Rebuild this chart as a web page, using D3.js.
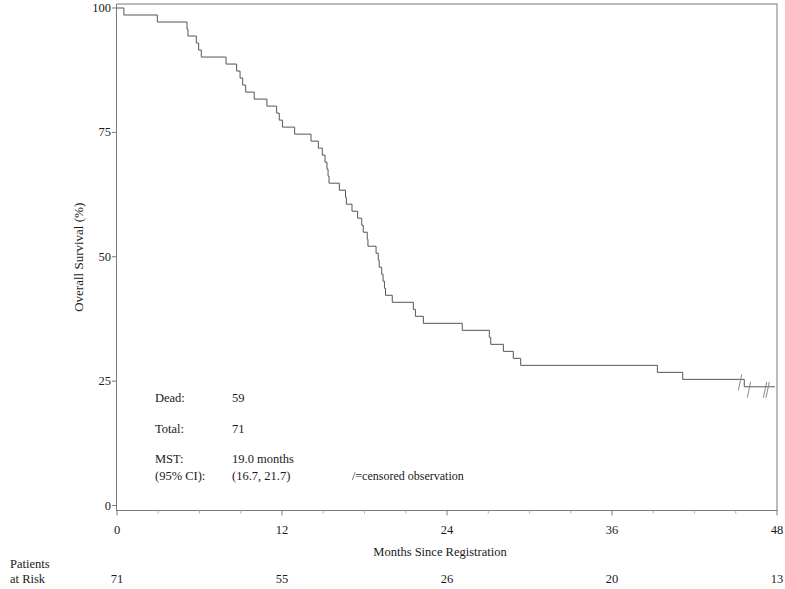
<!DOCTYPE html>
<html>
<head>
<meta charset="utf-8">
<script src="https://cdn.jsdelivr.net/npm/d3@7"></script>
<style>
  html, body { margin: 0; padding: 0; background: #fff; }
  svg { display: block; }
  text { font-family: "Liberation Serif", "Times New Roman", serif; fill: #1a1a1a; }
</style>
</head>
<body>
<svg id="chart" width="785" height="589"></svg>
<script>
// ---- data ----
const nTotal = 71;
const deathTimes = [
  0.5, 2.93, 5.09, 5.16, 5.77, 5.94, 6.13, 7.93, 8.70, 8.95, 9.14, 9.36, 9.98,
  10.9, 11.61, 11.8, 12.03, 12.92, 14.11, 14.64, 14.93, 15.13, 15.27, 15.35,
  15.42, 16.17, 16.62, 16.68, 17.09, 17.5, 17.8, 17.91, 18.2, 18.25, 18.84,
  19.0, 19.07, 19.25, 19.35, 19.45, 19.53, 20.02, 21.55, 21.7, 22.28, 25.11,
  27.08, 27.18, 28.1, 28.82, 29.36, 39.3, 41.14, 45.62
];
const censorTimes = [45.31, 45.96, 47.13, 47.32];
const followUpEnd = 47.85;

const xTicks = [0, 12, 24, 36, 48];
const xMinorTicks = [3, 6, 9, 15, 18, 21, 27, 30, 33, 39, 42, 45];
const yTicks = [0, 25, 50, 75, 100];
const atRiskTimes = [0, 12, 24, 36, 48];
const atRiskCounts = [71, 55, 26, 20, 13];

const statLabels = ["Dead:", "Total:", "MST:", "(95% CI):"];
const statValues = ["59", "71", "19.0 months", "(16.7, 21.7)"];
const censorNote = "/=censored observation";

// ---- Kaplan-Meier estimate ----
const events = deathTimes.map(t => ({t, d: 1}))
  .concat(censorTimes.map(t => ({t, d: 0})))
  .sort((a, b) => a.t - b.t);
let atRisk = nTotal, S = 100;
const steps = [{t: 0, s: 100}];
const censorPts = [];
events.forEach(e => {
  if (e.d === 1) {
    S = S * (atRisk - 1) / atRisk;
    steps.push({t: e.t, s: S});
  } else {
    censorPts.push({t: e.t, s: S});
  }
  atRisk -= 1;
});
steps.push({t: followUpEnd, s: S});

// ---- scales ----
const svg = d3.select("#chart");
const x = d3.scaleLinear().domain([0, 48]).range([117, 777]);
const y = d3.scaleLinear().domain([0, 100]).range([505.5, 8]);
const frameTop = 4, frameBottom = 510.5;

const axisColor = "#7a7a7a";
const fs = 12.5;

// frame
svg.append("rect")
  .attr("x", x(0) - 0.5).attr("y", frameTop)
  .attr("width", x(48) - x(0) + 0.5).attr("height", frameBottom - frameTop)
  .attr("fill", "none").attr("stroke", axisColor).attr("stroke-width", 1);

// x axis ticks
const gx = svg.append("g");
gx.selectAll("line.major").data(xTicks).join("line")
  .attr("x1", d => x(d)).attr("x2", d => x(d))
  .attr("y1", frameBottom).attr("y2", frameBottom + 5)
  .attr("stroke", axisColor);
gx.selectAll("line.minor").data(xMinorTicks).join("line")
  .attr("x1", d => x(d)).attr("x2", d => x(d))
  .attr("y1", frameBottom).attr("y2", frameBottom + 3)
  .attr("stroke", "#b0b0b0");
gx.selectAll("text").data(xTicks).join("text")
  .attr("x", d => x(d)).attr("y", 534)
  .attr("text-anchor", "middle").attr("font-size", fs)
  .text(d => d);

svg.append("text")
  .attr("x", 440).attr("y", 556)
  .attr("text-anchor", "middle").attr("font-size", fs)
  .text("Months Since Registration");

// y axis ticks
const gy = svg.append("g");
gy.selectAll("line").data(yTicks).join("line")
  .attr("x1", x(0) - 5).attr("x2", x(0))
  .attr("y1", d => y(d)).attr("y2", d => y(d))
  .attr("stroke", axisColor);
gy.selectAll("text").data(yTicks).join("text")
  .attr("x", 111).attr("y", d => y(d) + 4)
  .attr("text-anchor", "end").attr("font-size", fs)
  .text(d => d);

svg.append("text")
  .attr("transform", `translate(83,${(y(50)+0.5).toFixed(1)}) rotate(-90)`)
  .attr("text-anchor", "middle").attr("font-size", 13)
  .text("Overall Survival (%)");

// survival curve
const line = d3.line()
  .x(d => x(d.t)).y(d => y(d.s))
  .curve(d3.curveStepAfter);
svg.append("path")
  .datum(steps)
  .attr("d", line)
  .attr("fill", "none")
  .attr("stroke", "#555")
  .attr("stroke-width", 1);

// censor marks
svg.selectAll("line.censor").data(censorPts).join("line")
  .attr("class", "censor")
  .attr("x1", d => x(d.t) - 1.7).attr("y1", d => y(d.s) + 11)
  .attr("x2", d => x(d.t) + 1.7).attr("y2", d => y(d.s) - 5)
  .attr("stroke", "#8a8a8a").attr("stroke-width", 1);

// stats text
const statY = [402, 433, 463, 480];
svg.selectAll("text.lab").data(statLabels).join("text")
  .attr("class", "lab")
  .attr("x", 155).attr("y", (d, i) => statY[i])
  .attr("font-size", fs).text(d => d);
svg.selectAll("text.val").data(statValues).join("text")
  .attr("class", "val")
  .attr("x", 232).attr("y", (d, i) => statY[i])
  .attr("font-size", fs).text(d => d);
svg.append("text")
  .attr("x", 352).attr("y", statY[3])
  .attr("font-size", 12).text(censorNote);

// patients at risk
svg.append("text").attr("x", 10).attr("y", 568).attr("font-size", fs).text("Patients");
svg.append("text").attr("x", 10).attr("y", 583).attr("font-size", fs).text("at Risk");
svg.selectAll("text.risk").data(atRiskTimes).join("text")
  .attr("class", "risk")
  .attr("x", d => x(d)).attr("y", 583)
  .attr("text-anchor", "middle").attr("font-size", fs)
  .text((d, i) => atRiskCounts[i]);
</script>
</body>
</html>
